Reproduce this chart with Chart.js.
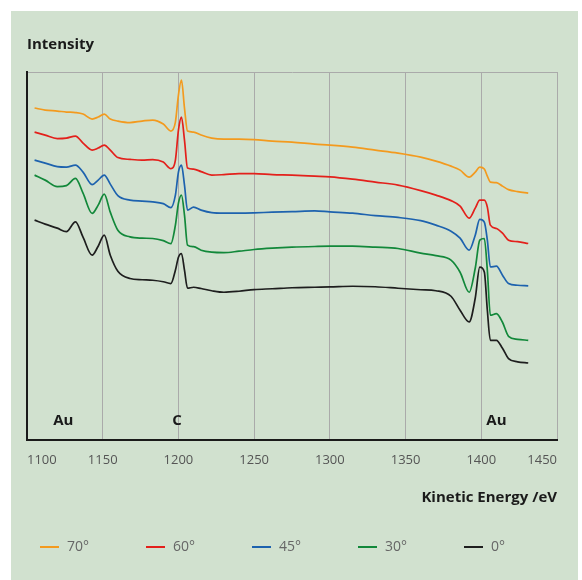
<!DOCTYPE html>
<html>
<head>
<meta charset="utf-8">
<script src="https://cdn.jsdelivr.net/npm/chart.js@4.4.1/dist/chart.umd.min.js"></script>
<style>
  html, body { margin: 0; background: #fff; }
  #panel { position: absolute; left: 11px; top: 11px; width: 567px; height: 569px; background: #d1e1cf; }
  canvas { display: block; }
</style>
</head>
<body>
<div id="panel"><canvas id="chart" width="567" height="569"></canvas></div>
<script>
// kinetic energy (eV) sample points
const energy = [1105, 1112, 1120, 1126, 1132, 1137, 1143, 1147, 1151, 1155, 1160, 1168, 1176, 1183, 1190, 1195, 1198, 1200, 1202, 1204, 1206, 1210, 1215, 1222, 1230, 1240, 1250, 1262, 1275, 1290, 1300, 1315, 1330, 1345, 1360, 1370, 1380, 1386, 1392, 1396, 1399, 1402, 1404, 1406, 1410, 1414, 1418, 1424, 1431];

// intensity (arb. units, curves offset) for each take-off angle
const deg70 = [332, 330, 329, 328, 327.5, 326, 321, 323, 326, 321, 319, 317.5, 319, 320, 316, 309, 318, 345, 360, 332, 309, 308, 305, 302, 301, 301, 300.5, 299, 298, 296, 295, 293, 290, 287, 283, 279, 274, 270, 263, 268, 273, 271, 264, 258, 257.5, 254, 250.5, 248.5, 247];
const deg60 = [308, 305, 301.5, 302, 304, 297, 290, 292, 295, 290, 282.5, 280.7, 280, 280.5, 278, 271.5, 280, 310, 323, 300, 272, 271, 268.5, 265, 265.5, 266.5, 266.5, 265.5, 265, 264, 263.3, 261, 258, 255, 249.5, 245, 239.5, 234, 222, 232, 240, 240, 233, 215, 211.7, 207, 200, 198.5, 196.7];
const deg45 = [280, 277, 273.5, 273, 275, 268, 255.5, 260, 265, 256, 244.5, 240, 239, 238.3, 236.5, 232.5, 245, 268, 275, 255, 230, 233, 230, 227.5, 227, 227, 227.3, 228, 228.5, 229.3, 228.3, 227, 224.5, 222.7, 219.5, 215, 209, 202, 190, 205, 220.7, 218, 200, 173.3, 174, 165, 156.7, 155, 154.3];
const deg30 = [265, 260, 253.5, 254.5, 261.7, 247, 226.7, 235, 246, 228, 210, 203.3, 202, 201.7, 199.5, 196.5, 215, 237, 245, 225, 195, 193.5, 190, 188, 187.5, 189, 190.7, 192, 193, 193.7, 194, 194, 193, 191.7, 187, 184.5, 180, 168, 148, 172, 200, 201.7, 170, 125, 126.7, 118, 104, 101, 100];
const deg0 = [220, 216, 212, 208.5, 218.3, 203, 185, 194, 205, 185, 169, 161.7, 160.5, 160, 158.5, 156.7, 170, 183, 186.7, 170, 152, 153, 151.7, 149.5, 148, 149, 150.7, 151.5, 152.5, 153, 153.3, 154, 153.5, 152, 150.5, 149.5, 144, 130, 118.3, 142, 173, 168.3, 130, 100, 100, 92, 81.7, 78.5, 77.3];

const seriesLabels = ["70°", "60°", "45°", "30°", "0°"];
const seriesData = [deg70, deg60, deg45, deg30, deg0];
const seriesColors = ["#f39a1e", "#e3201b", "#1d62ae", "#12883a", "#1e1e1e"];

const xTicks = [1100, 1150, 1200, 1250, 1300, 1350, 1400, 1450];

const peakLabels = ["Au", "C", "Au"];
const peakEnergies = [1124, 1199, 1410];

const FONT = "'Open Sans', 'Noto Sans', sans-serif";

const peakLabelPlugin = {
  id: "peakLabels",
  afterDatasetsDraw(chart) {
    const { ctx, scales } = chart;
    ctx.save();
    ctx.font = "bold 15px " + FONT;
    ctx.fillStyle = "#1a1a1a";
    ctx.textAlign = "center";
    ctx.textBaseline = "middle";
    peakLabels.forEach((txt, i) => {
      ctx.fillText(txt, scales.x.getPixelForValue(peakEnergies[i]), scales.y.getPixelForValue(20));
    });
    ctx.restore();
  },
};

// legend drawn as evenly spaced row under the axis title
const legendRow = {
  id: "legendRow",
  afterDraw(chart) {
    const { ctx } = chart;
    const y = 536;
    ctx.save();
    ctx.font = "14px " + FONT;
    ctx.textBaseline = "middle";
    chart.data.datasets.forEach((ds, i) => {
      const x0 = 29 + i * 106;
      ctx.strokeStyle = ds.borderColor;
      ctx.lineWidth = 2;
      ctx.beginPath();
      ctx.moveTo(x0, y);
      ctx.lineTo(x0 + 19, y);
      ctx.stroke();
      ctx.fillStyle = "#666";
      ctx.fillText(ds.label, x0 + 27, y);
    });
    ctx.restore();
  },
};

new Chart(document.getElementById("chart"), {
  type: "line",
  data: {
    datasets: seriesLabels.map((label, i) => ({
      label: label,
      data: energy.map((e, j) => ({ x: e, y: seriesData[i][j] })),
      borderColor: seriesColors[i],
      borderWidth: 1.7,
      pointRadius: 0,
      cubicInterpolationMode: "monotone",
    })),
  },
  options: {
    responsive: false,
    animation: false,
    devicePixelRatio: 1,
    layout: { padding: { left: 16, right: 21, top: 25, bottom: 73 } },
    plugins: {
      legend: { display: false },
      tooltip: { enabled: false },
      title: {
        display: true,
        text: "Intensity",
        align: "start",
        color: "#1a1a1a",
        font: { family: FONT, size: 15, weight: "bold" },
        padding: { top: 0, bottom: 18 },
      },
    },
    scales: {
      x: {
        type: "linear",
        min: 1100,
        max: 1450,
        afterBuildTicks(axis) {
          axis.ticks = xTicks.map((v) => ({ value: v }));
        },
        border: { color: "#1a1a1a", width: 2 },
        grid: { color: "#aaaaaa", lineWidth: 1, drawTicks: false },
        ticks: {
          align: "inner",
          padding: 12,
          color: "#555",
          font: { family: FONT, size: 13 },
          callback: (v) => String(v),
        },
        title: {
          display: true,
          text: "Kinetic Energy /eV",
          align: "end",
          color: "#1a1a1a",
          font: { family: FONT, size: 15, weight: "bold" },
          padding: { top: 9, bottom: 0 },
        },
      },
      xTop: {
        type: "linear",
        position: "top",
        min: 1100,
        max: 1450,
        border: { color: "#aaaaaa", width: 1 },
        grid: { display: false, drawTicks: false },
        ticks: { display: false },
      },
      y: {
        min: 0,
        max: 368,
        border: { color: "#1a1a1a", width: 2 },
        grid: { display: false, drawTicks: false },
        ticks: { display: false },
      },
    },
  },
  plugins: [peakLabelPlugin, legendRow],
});
</script>
</body>
</html>
